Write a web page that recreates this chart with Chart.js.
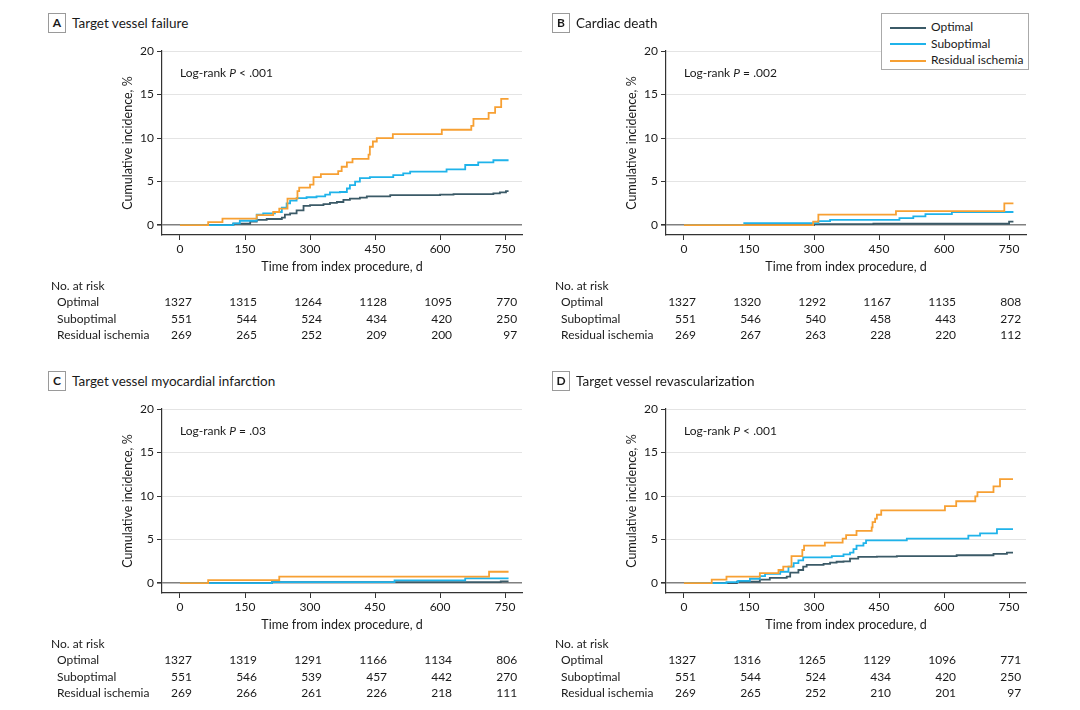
<!DOCTYPE html>
<html>
<head>
<meta charset="utf-8">
<script src="https://cdn.jsdelivr.net/npm/chart.js@4.4.1/dist/chart.umd.min.js"></script>
<style>
  body { margin: 0; background: #fff; width: 1080px; height: 710px; overflow: hidden; font-family: Lato, "Open Sans", sans-serif; color: #1a1a1a; }
  .panel { position: absolute; width: 540px; height: 355px; }
  .panel canvas { position: absolute; left: 0; top: 0; }
  .tag { position: absolute; left: 48px; top: 13px; width: 16px; height: 18px; border: 1px solid #9a9a9a; font-weight: bold; font-size: 12px; line-height: 18px; text-align: center; }
  .ttl { position: absolute; left: 72px; top: 14px; font-size: 13.5px; line-height: 18px; }
  #legend { position: absolute; left: 881px; top: 13px; width: 146px; height: 55px; border: 1px solid #aaa; background: #fff; font-size: 12px; z-index: 5; box-sizing: content-box; }
  #legend div { height: 16.5px; line-height: 16.5px; margin-left: 8px; }
  #legend div:first-child { margin-top: 5px; }
  #legend span { display: inline-block; width: 36px; height: 2px; vertical-align: middle; margin-right: 5px; }
</style>
</head>
<body>
<div id="legend"></div>
<script>
// Kaplan-Meier steps: [day, cumulative incidence %]
const groupNames = ["Optimal", "Suboptimal", "Residual ischemia"];
const groupColors = ["#3b5a67", "#1fb3ea", "#f7a033"];
const riskDays = [0, 150, 300, 450, 600, 750];

const tvfOptimal = [[0,0],[123,0.15],[162,0.4],[177,0.6],[200,0.7],[235,0.85],[242,1.2],[254,1.35],[269,1.7],[285,2.2],[300,2.3],[331,2.4],[346,2.55],[362,2.65],[377,2.9],[392,3.05],[415,3.15],[431,3.3],[485,3.45],[600,3.5],[631,3.55],[723,3.65],[738,3.75],[752,3.9],[758,3.9]];
const tvfSuboptimal = [[0,0],[123,0.2],[138,0.5],[177,1.2],[192,1.35],[219,1.5],[235,2.0],[246,2.5],[254,2.8],[269,3.1],[292,3.2],[315,3.3],[335,3.5],[346,3.75],[369,3.8],[385,4.2],[392,4.6],[404,5.0],[415,5.4],[438,5.5],[492,5.75],[515,5.95],[531,6.15],[615,6.4],[658,6.9],[688,7.2],[723,7.45],[758,7.45]];
const tvfResidual = [[0,0],[65,0.35],[98,0.73],[177,1.15],[215,1.5],[229,1.9],[248,3.05],[271,3.9],[275,4.3],[300,4.65],[308,5.5],[325,5.85],[365,6.2],[373,6.7],[385,7.2],[398,7.6],[435,8.1],[438,9.0],[445,9.6],[454,10.0],[491,10.45],[604,10.95],[672,11.4],[677,12.2],[712,12.9],[727,13.55],[741,14.5],[758,14.5]];

const cdOptimal = [[0,0],[300,0.1],[437,0.15],[750,0.4],[760,0.4]];
const cdSuboptimal = [[0,0],[139,0.23],[310,0.45],[337,0.6],[497,0.8],[529,1.0],[557,1.25],[618,1.5],[760,1.5]];
const cdResidual = [[0,0],[298,0.4],[310,1.2],[489,1.6],[739,2.5],[760,2.5]];

const miOptimal = [[0,0],[212,0.1],[740,0.2],[758,0.2]];
const miSuboptimal = [[0,0],[212,0.1],[495,0.3],[658,0.55],[758,0.55]];
const miResidual = [[0,0],[65,0.35],[229,0.75],[713,1.3],[758,1.3]];

const tvrOptimal = [[0,0],[122,0.15],[175,0.4],[198,0.6],[237,0.75],[245,1.2],[264,1.5],[275,1.9],[283,2.1],[322,2.2],[337,2.35],[352,2.45],[368,2.5],[383,2.8],[402,3.0],[445,3.05],[491,3.1],[629,3.2],[714,3.35],[745,3.5],[759,3.5]];
const tvrSuboptimal = [[0,0],[98,0.1],[125,0.25],[152,0.5],[175,0.8],[187,1.05],[222,1.3],[241,1.9],[253,2.3],[264,2.6],[275,2.95],[341,3.1],[368,3.3],[383,3.5],[391,3.9],[398,4.3],[414,4.6],[420,4.9],[514,5.1],[656,5.45],[683,5.7],[722,6.2],[759,6.2]];
const tvrResidual = [[0,0],[64,0.4],[98,0.75],[175,1.15],[218,1.5],[229,1.9],[248,3.1],[273,3.8],[277,4.3],[325,4.65],[366,5.1],[374,5.5],[398,6.0],[433,6.4],[435,7.0],[441,7.4],[445,7.85],[455,8.35],[602,8.85],[628,9.4],[672,9.95],[677,10.45],[714,11.1],[729,11.95],[759,11.95]];

// number at risk
const tvfRisk = [[1327,1315,1264,1128,1095,770],[551,544,524,434,420,250],[269,265,252,209,200,97]];
const cdRisk = [[1327,1320,1292,1167,1135,808],[551,546,540,458,443,272],[269,267,263,228,220,112]];
const miRisk = [[1327,1319,1291,1166,1134,806],[551,546,539,457,442,270],[269,266,261,226,218,111]];
const tvrRisk = [[1327,1316,1265,1129,1096,771],[551,544,524,434,420,250],[269,265,252,210,201,97]];

const panels = [
  { tag: "A", title: "Target vessel failure", p: "< .001", series: [tvfOptimal, tvfSuboptimal, tvfResidual], risk: tvfRisk, left: 0, top: 0 },
  { tag: "B", title: "Cardiac death", p: "= .002", series: [cdOptimal, cdSuboptimal, cdResidual], risk: cdRisk, left: 504, top: 0 },
  { tag: "C", title: "Target vessel myocardial infarction", p: "= .03", series: [miOptimal, miSuboptimal, miResidual], risk: miRisk, left: 0, top: 358 },
  { tag: "D", title: "Target vessel revascularization", p: "< .001", series: [tvrOptimal, tvrSuboptimal, tvrResidual], risk: tvrRisk, left: 504, top: 358 },
];

const FONT = "Lato";
const txt = "#1a1a1a";

const legend = document.getElementById("legend");
legend.innerHTML = groupNames.map((n, i) =>
  `<div><span style="background:${groupColors[i]}"></span>${n}</div>`).join("");

const extras = {
  id: "extras",
  afterDraw(chart, args, opts) {
    const { ctx } = chart;
    const x = chart.scales.x;
    ctx.save();
    ctx.fillStyle = txt;
    ctx.textBaseline = "middle";
    // log-rank
    ctx.font = `12px ${FONT}`;
    let px = x.getPixelForValue(0);
    ctx.textAlign = "left";
    ctx.fillText("Log-rank ", px, 73);
    px += ctx.measureText("Log-rank ").width;
    ctx.font = `italic 12px ${FONT}`;
    ctx.fillText("P", px, 73);
    px += ctx.measureText("P").width;
    ctx.font = `12px ${FONT}`;
    ctx.fillText(" " + opts.p, px, 73);
    // number at risk table
    ctx.fillText("No. at risk", 51, 286);
    const rowY = [302, 319, 335];
    opts.risk.forEach((row, r) => {
      ctx.textAlign = "left";
      ctx.fillText(groupNames[r], 57, rowY[r]);
      ctx.textAlign = "right";
      row.forEach((n, c) => ctx.fillText(String(n), x.getPixelForValue(riskDays[c]) + 12, rowY[r]));
    });
    ctx.restore();
  }
};

panels.forEach((pn) => {
  const div = document.createElement("div");
  div.className = "panel";
  div.style.left = pn.left + "px";
  div.style.top = pn.top + "px";
  div.innerHTML = `<div class="tag">${pn.tag}</div><div class="ttl">${pn.title}</div>`;
  const cv = document.createElement("canvas");
  cv.width = 540; cv.height = 355;
  div.appendChild(cv);
  document.body.appendChild(div);

  new Chart(cv.getContext("2d"), {
    type: "line",
    data: {
      datasets: pn.series.map((s, i) => ({
        label: groupNames[i],
        data: s.map(([d, v]) => ({ x: d, y: v })),
        borderColor: groupColors[i],
        borderWidth: 1.8,
        pointRadius: 0,
        stepped: true,
        fill: false,
        order: 2 - i,
      })),
    },
    options: {
      responsive: false,
      animation: false,
      layout: { padding: { left: 120, top: 51, right: 18, bottom: 80 } },
      plugins: { legend: { display: false }, tooltip: { enabled: false }, extras: { p: pn.p, risk: pn.risk } },
      scales: {
        x: {
          type: "linear", min: -41.5, max: 789,
          ticks: { stepSize: 150, includeBounds: false, color: txt, font: { family: FONT, size: 12 }, padding: 2, maxRotation: 0 },
          grid: { drawOnChartArea: false, tickLength: 5, color: "#333", tickColor: "#333" },
          border: { color: "#333", width: 1.2 },
          title: { display: true, text: "Time from index procedure, d", color: txt, font: { family: FONT, size: 12.5 }, padding: { top: 0, bottom: 1 } },
          afterFit(s) { s.height = 40; },
        },
        y: {
          min: -1.14, max: 20,
          ticks: { stepSize: 5, includeBounds: false, color: txt, font: { family: FONT, size: 12 }, padding: 3 },
          grid: { color: (c) => (c.tick && c.tick.value === 0 ? "#808080" : "#e4e4e4"), lineWidth: (c) => (c.tick && c.tick.value === 0 ? 1.6 : 1), tickLength: 5, tickColor: "#333" },
          border: { color: "#333", width: 1.2 },
          title: { display: true, text: "Cumulative incidence, %", color: txt, font: { family: FONT, size: 12.5 }, padding: 0 },
          afterFit(s) { s.width = 42; },
        },
      },
    },
    plugins: [extras],
  });
});
</script>
</body>
</html>
